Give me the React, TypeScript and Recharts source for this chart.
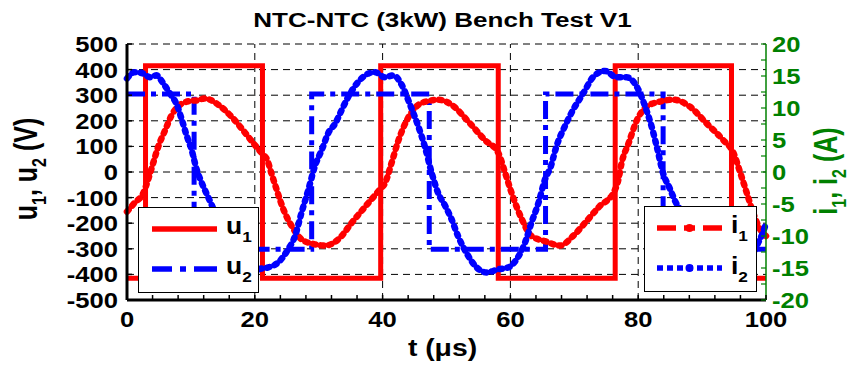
import { ComposedChart, Line, XAxis, YAxis, ReferenceLine } from 'recharts';

const FONT = '"Liberation Sans", Arial, Helvetica, sans-serif';
const RED = '#ff0000';
const BLUE = '#0000ff';
const GREEN = '#008000';

// axis ticks (minor ticks included, labels only on majors)
const X_TICKS = [0, 4, 8, 12, 16, 20, 24, 28, 32, 36, 40, 44, 48, 52, 56, 60, 64, 68, 72, 76, 80, 84, 88, 92, 96, 100];
const X_LABELS = [0, 20, 40, 60, 80, 100];
const X_GRID = [20, 40, 60, 80];
const U_TICKS = [-500, -400, -300, -200, -100, 0, 100, 200, 300, 400, 500];
const U_GRID = [-400, -300, -200, -100, 0, 100, 200, 300, 400, 500];
const I_TICKS = [-20, -17.5, -15, -12.5, -10, -7.5, -5, -2.5, 0, 2.5, 5, 7.5, 10, 12.5, 15, 17.5, 20];
const I_LABELS = [-20, -15, -10, -5, 0, 5, 10, 15, 20];

// u1 (V), switching instants in us
const T_U1 = [0, 2.9, 21.2, 39.7, 58.1, 76.4, 94.6, 100];
const U1 = [-415, 415, -415, 415, -415, 415, -415, -415];

// u2 (V)
const T_U2 = [0, 10.5, 28.9, 47.3, 65.5, 83.9, 100];
const U2 = [305, -302, 305, -302, 305, -302, -302];

// i1 (A)
const T_I1 = [0, 1.2, 2.5, 3.3, 4.1, 4.9, 6.0, 7.0, 8.3, 9.9, 11.0, 12.2, 13.2, 14.3, 16.4, 18.5, 20.6, 21.3, 21.9, 22.6, 23.4, 24.5, 25.8, 27.3, 29.4, 31.0, 33.1, 35.2, 37.8, 39.6, 40.4, 41.4, 42.5, 43.8, 45.6, 47.2, 48.7, 50.8, 53.4, 56.0, 58.1, 59.2, 60.2, 61.8, 63.3, 65.4, 67.8, 69.8, 71.9, 74.0, 76.1, 76.9, 77.4, 78.5, 79.8, 81.3, 83.4, 85.5, 88.1, 90.7, 93.3, 94.9, 96.0, 97.0, 98.0, 99.1, 100];
const I1 = [-6.2, -4.8, -3.4, -1.2, 1.4, 4.0, 6.6, 8.9, 10.5, 11.1, 11.2, 11.5, 11.2, 10.5, 8.6, 6.1, 3.5, 2.7, 2.0, -0.2, -2.7, -5.9, -8.5, -10.5, -11.3, -11.5, -10.5, -7.9, -4.8, -2.7, -1.7, 1.4, 5.0, 8.1, 10.5, 11.1, 11.3, 10.5, 7.9, 5.0, 3.0, -0.2, -3.3, -7.4, -10.0, -10.8, -11.5, -10.0, -7.7, -5.3, -3.3, -1.2, 1.4, 4.5, 8.1, 10.2, 11.0, 11.3, 10.2, 7.6, 5.0, 3.0, -0.2, -3.3, -6.4, -9.0, -10.0];

// i2 (A)
const T_I2 = [0, 1.2, 2.5, 3.6, 4.6, 5.7, 6.7, 7.8, 8.6, 9.3, 10.1, 10.9, 11.7, 12.5, 13.1, 14.2, 15.2, 16.5, 18.1, 19.7, 20.6, 22.1, 23.7, 25.2, 26.3, 27.3, 28.4, 29.4, 30.5, 31.5, 32.6, 33.6, 34.6, 36.2, 37.8, 38.8, 40.4, 41.7, 43.0, 44.3, 45.6, 46.6, 47.7, 48.7, 49.8, 50.8, 51.8, 53.1, 54.7, 56.3, 58.1, 59.7, 61.0, 62.3, 63.3, 64.4, 65.4, 66.3, 67.2, 68.5, 69.8, 71.4, 73.0, 74.8, 76.6, 78.2, 79.8, 81.1, 82.1, 82.9, 83.9, 85.0, 85.8, 87.0, 88.5, 90.0, 91.5, 93.0, 94.8, 96.5, 97.8, 98.8, 99.5, 100];
const I2 = [14.6, 15.6, 15.4, 14.8, 15.1, 13.8, 12.3, 10.5, 8.1, 5.8, 3.5, 0.4, -1.7, -3.5, -4.8, -7.4, -10.0, -12.6, -14.9, -15.6, -15.2, -14.9, -14.1, -12.1, -10.0, -6.4, -2.7, 0.9, 3.5, 6.1, 7.6, 9.7, 11.7, 14.1, 15.4, 15.6, 14.8, 15.1, 13.6, 10.5, 7.1, 4.0, -0.2, -3.3, -5.3, -7.4, -10.0, -12.6, -14.9, -15.7, -15.2, -14.9, -13.6, -11.0, -7.9, -4.8, -1.2, 0.8, 4.0, 7.1, 9.7, 12.3, 14.9, 15.8, 14.8, 14.8, 13.3, 10.2, 7.1, 4.0, -0.2, -2.7, -4.6, -6.5, -10.0, -12.8, -14.8, -15.6, -15.2, -14.6, -13.0, -11.0, -9.5, -8.0];

const toRows = (ts: number[], vs: number[]) => ts.map((t, k) => ({ t, v: vs[k] }));

const STRETCH = 1.19;

function LeftTick(props: any) {
  const { x, y, payload } = props;
  const ax = x + 9;
  return (
    <g>
      <line x1={ax} x2={ax + 5} y1={y} y2={y} stroke="#000" strokeWidth={1.5} />
      <text transform={`translate(${x},${y + 8}) scale(${STRETCH},1)`} textAnchor="end"
        fontFamily={FONT} fontWeight="bold" fontSize={21.5} fill="#000">
        {payload.value}
      </text>
    </g>
  );
}

function BottomTick(props: any) {
  const { x, y, payload } = props;
  const ay = y - 12;
  const show = X_LABELS.includes(payload.value);
  return (
    <g>
      <line x1={x} x2={x} y1={ay} y2={ay - 5} stroke="#000" strokeWidth={1.5} />
      {show && (
        <text transform={`translate(${x},${ay + 27}) scale(${STRETCH},1)`} textAnchor="middle"
          fontFamily={FONT} fontWeight="bold" fontSize={21.5} fill="#000">
          {payload.value}
        </text>
      )}
    </g>
  );
}

function RightTick(props: any) {
  const { x, y, payload } = props;
  const ax = x - 6;
  const show = I_LABELS.includes(payload.value);
  return (
    <g>
      <line x1={ax} x2={ax - 5} y1={y} y2={y} stroke={GREEN} strokeWidth={1.2} />
      {show && (
        <text transform={`translate(${x},${y + 8}) scale(${STRETCH},1)`} textAnchor="start"
          fontFamily={FONT} fontWeight="bold" fontSize={21.5} fill={GREEN}>
          {payload.value}
        </text>
      )}
    </g>
  );
}

function Overlay() {
  return (
    <svg width={853} height={369} style={{ position: 'absolute', left: 0, top: 0, pointerEvents: 'none' }}
      fontFamily={FONT} fontWeight="bold">
      <text transform="translate(442.5,27) scale(1.24,1)" textAnchor="middle" fontSize={21} fill="#000">
        NTC-NTC (3kW) Bench Test V1
      </text>
      <text transform="translate(442.5,356) scale(1.18,1)" textAnchor="middle" fontSize={24} fill="#000">
        t (μs)
      </text>
      <text transform="translate(37,169) rotate(-90) scale(1,1.3)" textAnchor="middle" fontSize={25} fill="#000">
        u<tspan dy={7} fontSize={16}>1</tspan><tspan dy={-7}>, u</tspan>
        <tspan dy={7} fontSize={16}>2</tspan><tspan dy={-7}> (V)</tspan>
      </text>
      <text transform="translate(837,171) rotate(-90) scale(1,1.3)" textAnchor="middle" fontSize={25} fill={GREEN}>
        i<tspan dy={7} fontSize={16}>1</tspan><tspan dy={-7}>, i</tspan>
        <tspan dy={7} fontSize={16}>2</tspan><tspan dy={-7}> (A)</tspan>
      </text>

      {/* legend: u1, u2 */}
      <rect x={138.5} y={207.5} width={120} height={85} fill="#fff" stroke="#000" strokeWidth={1} />
      <line x1={152} x2={217} y1={229} y2={229} stroke={RED} strokeWidth={5.5} />
      <line x1={152} x2={217} y1={269} y2={269} stroke={BLUE} strokeWidth={5.5} strokeDasharray="20 8 6 8 23" />
      <text transform="translate(226,234) scale(1.15,1)" fontSize={23} fill="#000">
        u<tspan dy={8} fontSize={15}>1</tspan>
      </text>
      <text transform="translate(226,274) scale(1.15,1)" fontSize={23} fill="#000">
        u<tspan dy={8} fontSize={15}>2</tspan>
      </text>

      {/* legend: i1, i2 */}
      <rect x={644.5} y={206.5} width={112} height={85} fill="#fff" stroke="#000" strokeWidth={1} />
      <line x1={657} x2={722} y1={228} y2={228} stroke={RED} strokeWidth={5.5} strokeDasharray="19 8 11 8 19" />
      <circle cx={689.5} cy={228} r={4} fill={RED} />
      <line x1={657} x2={722} y1={268} y2={268} stroke={BLUE} strokeWidth={5.5} strokeDasharray="6 4" />
      <circle cx={689.5} cy={268} r={4} fill={BLUE} />
      <text transform="translate(731,233) scale(1.15,1)" fontSize={23} fill="#000">
        i<tspan dy={8} fontSize={15}>1</tspan>
      </text>
      <text transform="translate(731,274) scale(1.15,1)" fontSize={23} fill="#000">
        i<tspan dy={8} fontSize={15}>2</tspan>
      </text>
    </svg>
  );
}

export default function App() {
  return (
    <div style={{ position: 'absolute', left: 0, top: 0, width: 853, height: 369, background: '#fff' }}>
      <ComposedChart width={853} height={369} margin={{ top: 44, right: 27, bottom: 39, left: 67 }}>
        <XAxis type="number" dataKey="t" domain={[0, 100]} ticks={X_TICKS} interval={0}
          height={30} tickSize={0} tickMargin={12} tickLine={false}
          axisLine={{ stroke: '#000', strokeWidth: 3 }} tick={(p: any) => <BottomTick {...p} />} />
        <YAxis yAxisId="u" domain={[-500, 500]} ticks={U_TICKS} interval={0} width={60}
          tickSize={0} tickMargin={9} tickLine={false}
          axisLine={{ stroke: '#000', strokeWidth: 3 }} tick={(p: any) => <LeftTick {...p} />} />
        <YAxis yAxisId="i" orientation="right" domain={[-20, 20]} ticks={I_TICKS} interval={0} width={60}
          tickSize={0} tickMargin={6} tickLine={false}
          axisLine={{ stroke: GREEN, strokeWidth: 1.5 }} tick={(p: any) => <RightTick {...p} />} />

        {U_GRID.map((v) => (
          <ReferenceLine key={'h' + v} yAxisId="u" y={v} stroke="#000" strokeWidth={1} strokeDasharray="7 5" />
        ))}
        {X_GRID.map((v) => (
          <ReferenceLine key={'v' + v} yAxisId="u" x={v} stroke="#000" strokeWidth={1} strokeDasharray="7 5" />
        ))}

        <Line yAxisId="u" data={toRows(T_U1, U1)} dataKey="v" type="stepAfter" stroke={RED}
          strokeWidth={5} dot={false} activeDot={false} isAnimationActive={false} />
        <Line yAxisId="u" data={toRows(T_U2, U2)} dataKey="v" type="stepAfter" stroke={BLUE}
          strokeWidth={5} strokeDasharray="18 6 5 6" dot={false} activeDot={false} isAnimationActive={false} />
        <Line yAxisId="i" data={toRows(T_I1, I1)} dataKey="v" type="monotone" stroke={RED}
          strokeWidth={6.5} strokeDasharray="2.5 5.5" strokeLinecap="round" dot={false} activeDot={false}
          isAnimationActive={false} />
        <Line yAxisId="i" data={toRows(T_I2, I2)} dataKey="v" type="monotone" stroke={BLUE}
          strokeWidth={6.5} strokeDasharray="2.5 5.5" strokeLinecap="round" dot={false} activeDot={false}
          isAnimationActive={false} />
      </ComposedChart>
      <Overlay />
    </div>
  );
}
